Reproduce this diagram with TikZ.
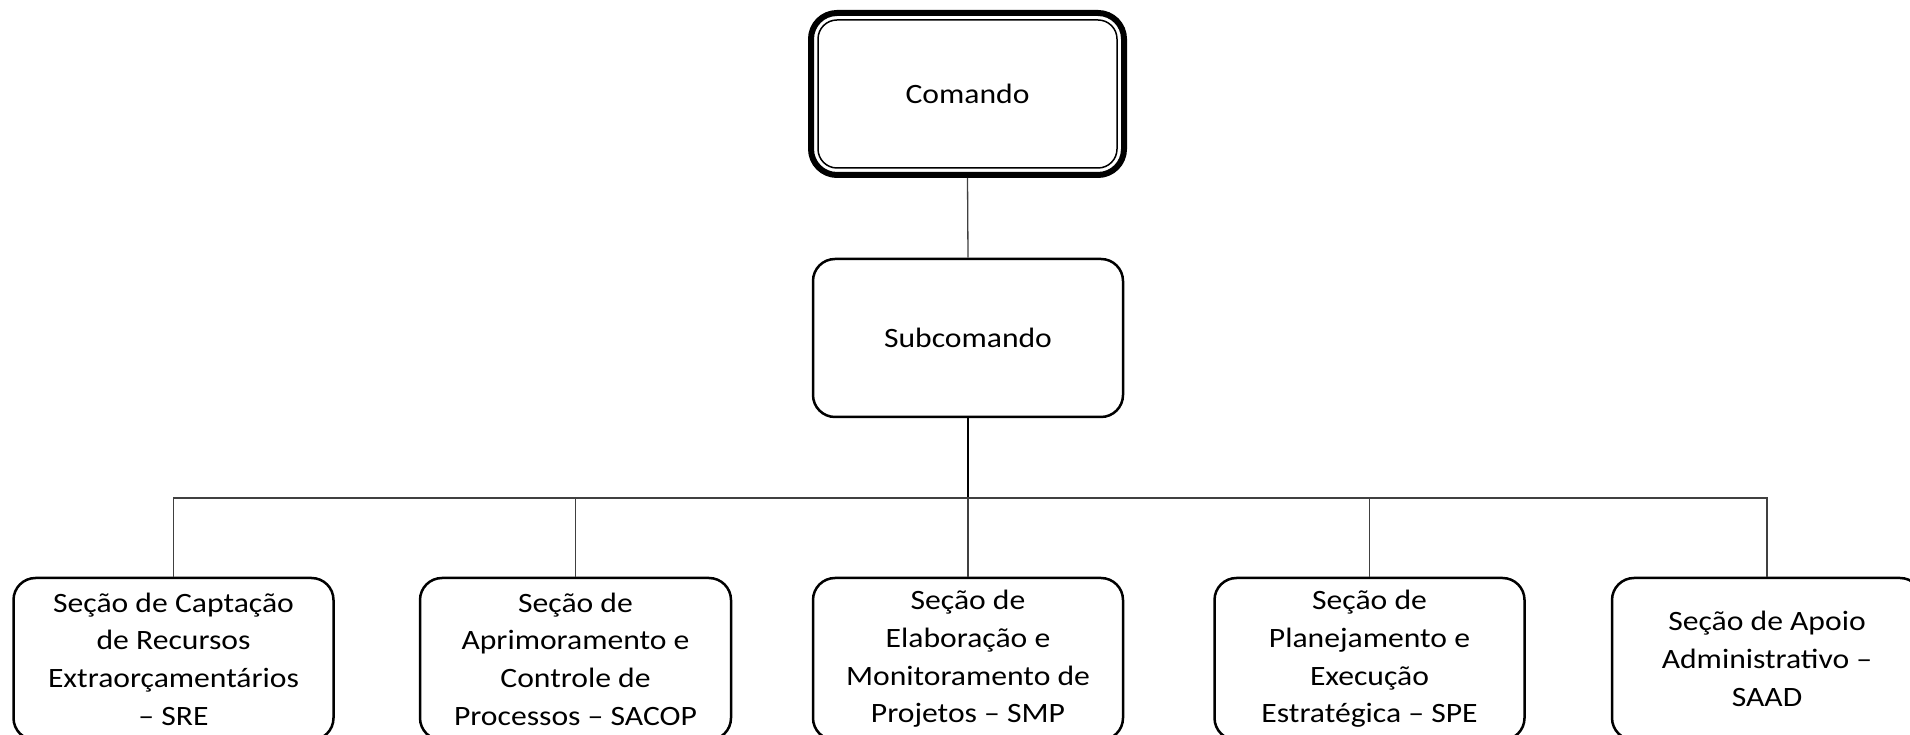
\documentclass[tikz,border=0pt]{standalone}
\usepackage{fontspec}
\setmainfont[FakeStretch=1.13]{Carlito}
\begin{document}
\begin{tikzpicture}[x=1pt,y=1pt,
  box/.style={draw=black, line width=2.5pt, rounded corners=22pt, align=center,
    font=\fontsize{28}{37.7}\selectfont, inner sep=0pt, minimum height=162pt},
  conn/.style={draw=black!75, line width=1.3pt}]
\useasboundingbox (0,0) rectangle (1910,735);
\clip (0,0) rectangle (1910,735);
\fill[white] (0,0) rectangle (1910,735);
% Comando
\node[box, line width=6pt, rounded corners=26pt, minimum width=313pt, minimum height=162pt] (cmd) at (967.5,641) {Comando};
\draw[line width=1.5pt, rounded corners=19pt] ([shift={(10,-10)}]cmd.north west) rectangle ([shift={(-10,10)}]cmd.south east);
% Subcomando
\node[box, minimum width=310pt, minimum height=158pt] (sub) at (968,397) {Subcomando};
% bottom boxes
\node[box, minimum width=320pt] (b1) at (173.5,76) {Seção de Captação\\de Recursos\\Extraorçamentários\\– SRE};
\node[box, minimum width=311pt] (b2) at (575.5,76) {Seção de\\Aprimoramento e\\Controle de\\Processos – SACOP};
\node[box, minimum width=310pt] (b3) at (968,76) {Seção de\\Elaboração e\\Monitoramento de\\Projetos – SMP};
\node[box, minimum width=310pt] (b4) at (1369.5,76) {Seção de\\Planejamento e\\Execução\\Estratégica – SPE};
\node[box, minimum width=310pt] (b5) at (1767,76) {Seção de Apoio\\Administrativo –\\SAAD};
% connectors
\coordinate (bar) at (968,237);
\draw[conn] (cmd.south) -- (sub.north);
\draw[draw=black, line width=2pt] (sub.south) -- (bar);
\draw[conn] (b1.north) -- (b1.north |- bar) -- (b5.north |- bar) -- (b5.north);
\draw[conn] (b2.north) -- (b2.north |- bar);
\draw[conn] (b3.north) -- (b3.north |- bar);
\draw[conn] (b4.north) -- (b4.north |- bar);
\end{tikzpicture}
\end{document}
